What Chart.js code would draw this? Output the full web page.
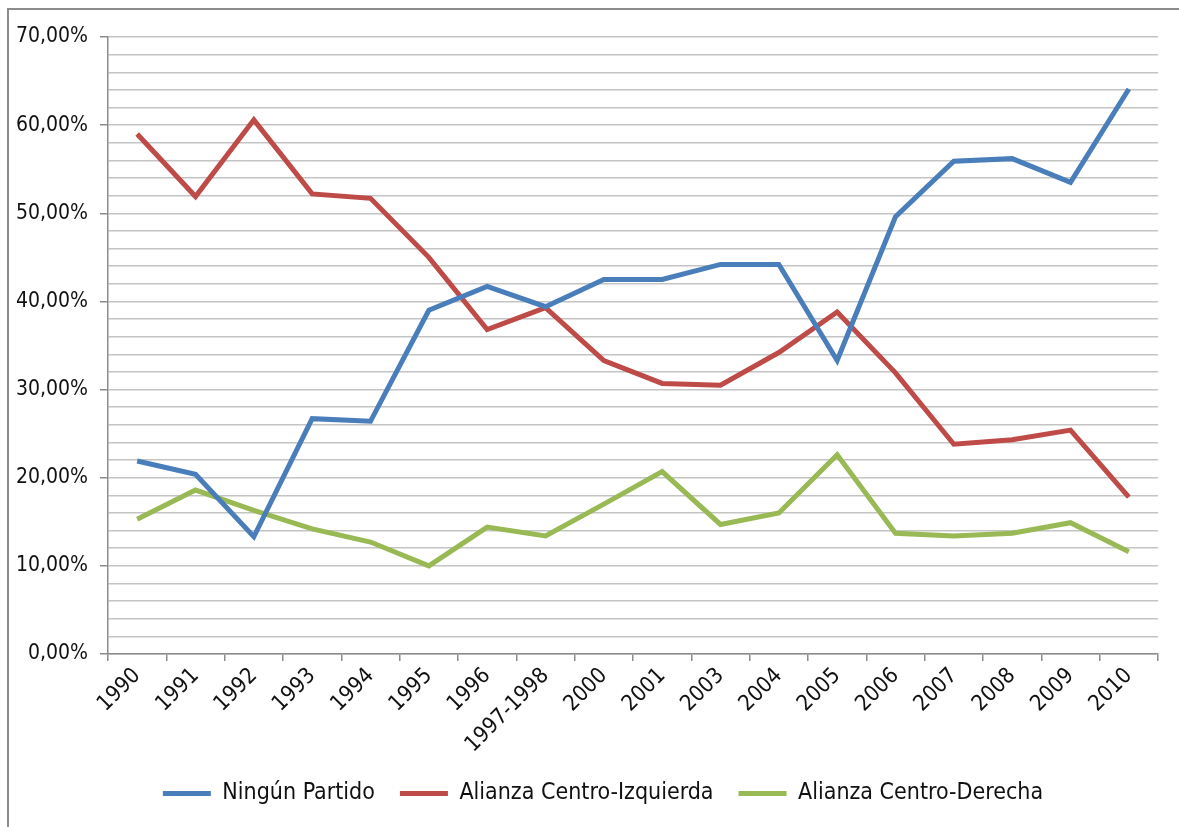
<!DOCTYPE html>
<html>
<head>
<meta charset="utf-8">
<script src="https://cdn.jsdelivr.net/npm/chart.js@4.4.1/dist/chart.umd.min.js"></script>
<style>
  html, body { margin: 0; padding: 0; background: #fff; overflow: hidden; }
  #frame { position: absolute; left: 7px; top: 8px; width: 1300px; height: 900px;
           border-left: 2px solid #8c8c8c; border-top: 2px solid #8c8c8c; }
  #wrap { position: absolute; left: 0; top: 0; width: 1179px; height: 827px; }
</style>
</head>
<body>
<div id="frame"></div>
<div id="wrap"><canvas id="chart" width="1179" height="827"></canvas></div>
<script>
const years = ["1990", "1991", "1992", "1993", "1994", "1995", "1996", "1997-1998", "2000",
  "2001", "2003", "2004", "2005", "2006", "2007", "2008", "2009", "2010"];

const ningunPartido = [21.9, 20.4, 13.3, 26.7, 26.4, 39.0, 41.7, 39.4, 42.5,
  42.5, 44.2, 44.2, 33.3, 49.6, 55.9, 56.2, 53.5, 64.1];
const centroIzquierda = [59.0, 51.9, 60.6, 52.2, 51.7, 45.0, 36.8, 39.3, 33.3,
  30.7, 30.5, 34.2, 38.8, 31.9, 23.8, 24.3, 25.4, 17.8];
const centroDerecha = [15.3, 18.6, 16.3, 14.2, 12.7, 10.0, 14.4, 13.4, 17.0,
  20.7, 14.7, 16.0, 22.6, 13.7, 13.4, 13.7, 14.9, 11.6];

const yMin = 0, yMax = 70, yStep = 2, yLabelEvery = 10;

const FONT = "'Liberation Sans Narrow', 'DejaVu Sans Condensed', 'Arial Narrow', sans-serif";

function series(label, data, color) {
  return {
    label, data,
    borderColor: color, backgroundColor: color,
    borderWidth: 5, pointRadius: 0, tension: 0, fill: false,
    borderJoinStyle: "miter", borderCapStyle: "butt",
  };
}

// the legend sits a bit right of the canvas centre in the original
const shiftLegend = {
  id: "shiftLegend",
  afterLayout(chart) {
    chart.legend.left += 19;
    chart.legend.right += 19;
  },
};

new Chart(document.getElementById("chart").getContext("2d"), {
  type: "line",
  data: {
    labels: years,
    datasets: [
      series("Ningún Partido", ningunPartido, "#4a7ebb"),
      series("Alianza Centro-Izquierda", centroIzquierda, "#be4b48"),
      series("Alianza Centro-Derecha", centroDerecha, "#98b954"),
    ],
  },
  options: {
    responsive: false,
    animation: false,
    layout: { padding: { left: 10, top: 37, right: 21, bottom: 12 } },
    scales: {
      x: {
        offset: true,
        border: { color: "#8c8c8c", width: 1.5 },
        grid: { offset: true, drawOnChartArea: false, drawTicks: true, tickLength: 7, color: "#8c8c8c", lineWidth: 1.5 },
        ticks: { autoSkip: false, minRotation: 45, maxRotation: 45, padding: 2, color: "#111",
                 font: { family: FONT, size: 22 } },
        afterFit: (scale) => { scale.height = 103; },
      },
      y: {
        min: yMin, max: yMax,
        border: { color: "#8c8c8c", width: 1.5 },
        grid: {
          color: "#c4c4c4", lineWidth: 1.5, tickLength: 8,
          tickColor: (ctx) => (ctx.tick && ctx.tick.value % yLabelEvery === 0 ? "#8c8c8c" : "rgba(0,0,0,0)"),
        },
        ticks: {
          stepSize: yStep, autoSkip: false, padding: 12, color: "#111",
          font: { family: FONT, size: 21 },
          callback: (v) => (v % yLabelEvery === 0 ? v.toFixed(2).replace(".", ",") + "%" : ""),
        },
        afterFit: (scale) => { scale.width = 98; },
      },
    },
    plugins: {
      legend: {
        position: "bottom",
        labels: {
          boxWidth: 48, boxHeight: 5, padding: 25, color: "#111",
          font: { family: FONT, size: 23 },
          generateLabels: (chart) =>
            Chart.defaults.plugins.legend.labels.generateLabels(chart).map((l) => ({ ...l, lineWidth: 0 })),
        },
      },
      tooltip: { enabled: false },
    },
  },
  plugins: [shiftLegend],
});
</script>
</body>
</html>
